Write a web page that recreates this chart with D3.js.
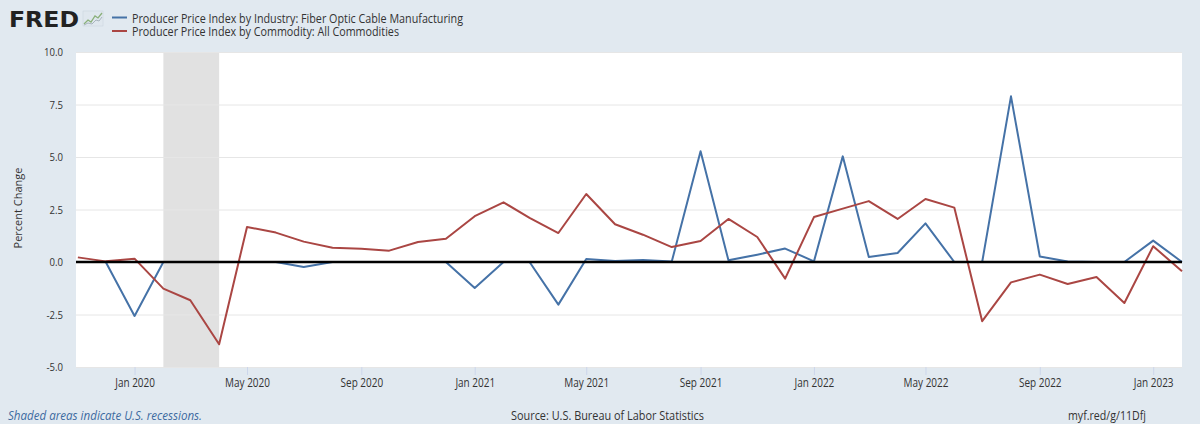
<!DOCTYPE html>
<html>
<head>
<meta charset="utf-8">
<script src="https://cdn.jsdelivr.net/npm/d3@7"></script>
<style>
  body { margin: 0; background: #e1e9f0; }
  svg { display: block; font-family: "Open Sans", sans-serif; }
</style>
</head>
<body>
<svg width="1200" height="424"></svg>
<script>
// monthly observations, Nov 2019 - Feb 2023
const months = [
  "2019-11", "2019-12",
  "2020-01", "2020-02", "2020-03", "2020-04", "2020-05", "2020-06",
  "2020-07", "2020-08", "2020-09", "2020-10", "2020-11", "2020-12",
  "2021-01", "2021-02", "2021-03", "2021-04", "2021-05", "2021-06",
  "2021-07", "2021-08", "2021-09", "2021-10", "2021-11", "2021-12",
  "2022-01", "2022-02", "2022-03", "2022-04", "2022-05", "2022-06",
  "2022-07", "2022-08", "2022-09", "2022-10", "2022-11", "2022-12",
  "2023-01", "2023-02"
];
const fiberOptic = [
  0, 0,
  -2.57, 0, 0, 0, 0, 0,
  -0.24, 0, 0, 0, 0, 0,
  -1.24, 0, 0, -2.03, 0.14, 0.05,
  0.1, 0.02, 5.27, 0.08, 0.35, 0.64,
  0.03, 5.03, 0.24, 0.43, 1.84, 0,
  0, 7.89, 0.26, 0.02, 0, 0,
  1.02, 0
];
const allCommodities = [
  0.22, 0.03,
  0.16, -1.27, -1.82, -3.92, 1.67, 1.40,
  0.97, 0.68, 0.63, 0.54, 0.95, 1.11,
  2.18, 2.84, 2.10, 1.38, 3.24, 1.80,
  1.30, 0.71, 1.00, 2.05, 1.19, -0.79,
  2.14, 2.54, 2.90, 2.05, 3.00, 2.59,
  -2.82, -0.97, -0.60, -1.05, -0.71, -1.95,
  0.75, -0.44
];
const seriesNames = [
  "Producer Price Index by Industry: Fiber Optic Cable Manufacturing",
  "Producer Price Index by Commodity: All Commodities"
];
const recessions = [["2020-02", "2020-04"]];
const yTicks = [-5, -2.5, 0, 2.5, 5, 7.5, 10];
const xTicks = ["2020-01", "2020-05", "2020-09", "2021-01", "2021-05", "2021-09",
                "2022-01", "2022-05", "2022-09", "2023-01"];

const colors = ["#4572a7", "#aa4643"];
const K = 0.83; // the picture is a bit narrow, squeeze horizontal text

const parse = d3.timeParse("%Y-%m");
const dates = months.map(parse);

const svg = d3.select("svg");
const plot = { left: 76, right: 1182, top: 52, bottom: 367 };

function squeeze(sel, k) {
  sel.each(function() {
    const w = this.getComputedTextLength();
    d3.select(this).attr("textLength", w * k).attr("lengthAdjust", "spacingAndGlyphs");
  });
}

const x = d3.scaleTime()
  .domain([new Date(2019, 9, 30), parse("2023-02")])
  .range([plot.left, plot.right]);

const y = d3.scaleLinear()
  .domain([-5, 10])
  .range([plot.bottom, plot.top]);

// plot background
svg.append("rect")
  .attr("x", plot.left)
  .attr("y", plot.top)
  .attr("width", plot.right - plot.left)
  .attr("height", plot.bottom - plot.top)
  .attr("fill", "#fff");

// recession bars
svg.selectAll(".recession")
  .data(recessions)
  .enter().append("rect")
  .attr("class", "recession")
  .attr("x", d => x(parse(d[0])))
  .attr("y", plot.top)
  .attr("width", d => x(parse(d[1])) - x(parse(d[0])))
  .attr("height", plot.bottom - plot.top)
  .attr("fill", "#e1e1e1");

// y grid + labels
const yAxis = svg.append("g")
  .attr("transform", `translate(${plot.left},0)`)
  .call(d3.axisLeft(y)
    .tickValues(yTicks)
    .tickSize(-(plot.right - plot.left))
    .tickPadding(13)
    .tickFormat(d => d.toFixed(1)));
yAxis.select(".domain").remove();
yAxis.selectAll(".tick line").attr("stroke", "#e6e6e6").attr("stroke-width", 1);
yAxis.selectAll(".tick text")
  .attr("fill", "#333")
  .style("font-size", "11px")
  .style("font-family", "Open Sans");
squeeze(yAxis.selectAll(".tick text"), 0.87);

svg.append("text")
  .attr("transform", "translate(21.5,208) rotate(-90)")
  .attr("text-anchor", "middle")
  .attr("fill", "#333")
  .style("font-size", "11px")
  .text("Percent Change");

// x axis
const xAxis = svg.append("g")
  .attr("transform", `translate(0,${plot.bottom})`)
  .call(d3.axisBottom(x)
    .tickValues(xTicks.map(parse))
    .tickSize(8)
    .tickPadding(3)
    .tickFormat(d3.timeFormat("%b %Y")));
xAxis.select(".domain").remove();
xAxis.selectAll(".tick line").attr("stroke", "#ccd6eb");
xAxis.selectAll(".tick text")
  .attr("fill", "#333")
  .style("font-size", "12px")
  .style("font-family", "Open Sans");
squeeze(xAxis.selectAll(".tick text"), K);

// series
const line = d3.line()
  .x((d, i) => x(dates[i]))
  .y(d => y(d));

[fiberOptic, allCommodities].forEach((vals, i) => {
  svg.append("path")
    .datum(vals)
    .attr("fill", "none")
    .attr("stroke", colors[i])
    .attr("stroke-width", 2)
    .attr("stroke-linejoin", "round")
    .attr("d", line);
});

// zero line on top
svg.append("line")
  .attr("x1", plot.left)
  .attr("x2", plot.right)
  .attr("y1", y(0))
  .attr("y2", y(0))
  .attr("stroke", "#000")
  .attr("stroke-width", 2.5);

// header: logo
svg.append("text")
  .attr("x", 9)
  .attr("y", 27)
  .attr("fill", "#222")
  .attr("textLength", 70)
  .attr("lengthAdjust", "spacingAndGlyphs")
  .style("font-family", "DejaVu Sans")
  .style("font-weight", "bold")
  .style("font-size", "22px")
  .text("FRED");

const icon = svg.append("g").attr("transform", "translate(83,11)");
icon.append("rect")
  .attr("width", 20).attr("height", 15)
  .attr("fill", "#dfe7ee").attr("stroke", "#c8d3dc").attr("stroke-width", 0.5);
icon.append("polyline")
  .attr("points", "1,13 5,9 8,11 12,5 15,7 19,2")
  .attr("fill", "none").attr("stroke", "#8ab07a").attr("stroke-width", 1.3);
icon.append("polyline")
  .attr("points", "1,14 5,12 9,13 13,9 16,10 19,6")
  .attr("fill", "none").attr("stroke", "#a8b4be").attr("stroke-width", 1);

// legend
const legend = svg.append("g");
seriesNames.forEach((name, i) => {
  const yy = 22.5 + i * 13.5;
  legend.append("line")
    .attr("x1", 112).attr("x2", 127)
    .attr("y1", yy - 5).attr("y2", yy - 5)
    .attr("stroke", colors[i]).attr("stroke-width", 2);
  legend.append("text")
    .attr("x", 132)
    .attr("y", yy)
    .attr("fill", "#333")
    .style("font-size", "12.5px")
    .text(name);
});
legend.selectAll("text").attr("textLength", (d, i) => [331, 267][i])
  .attr("lengthAdjust", "spacingAndGlyphs");

// footer
const foot = svg.append("g").style("font-size", "12px");
foot.append("text")
  .attr("x", 8).attr("y", 420)
  .attr("fill", "#3c6aa0")
  .attr("textLength", 194)
  .attr("lengthAdjust", "spacingAndGlyphs")
  .style("font-style", "italic")
  .text("Shaded areas indicate U.S. recessions.");
foot.append("text")
  .attr("x", 511).attr("y", 420)
  .attr("fill", "#333")
  .attr("textLength", 193)
  .attr("lengthAdjust", "spacingAndGlyphs")
  .text("Source: U.S. Bureau of Labor Statistics");
foot.append("text")
  .attr("x", 1068).attr("y", 420)
  .attr("fill", "#333")
  .attr("textLength", 78)
  .attr("lengthAdjust", "spacingAndGlyphs")
  .text("myf.red/g/11Dfj");
</script>
</body>
</html>
